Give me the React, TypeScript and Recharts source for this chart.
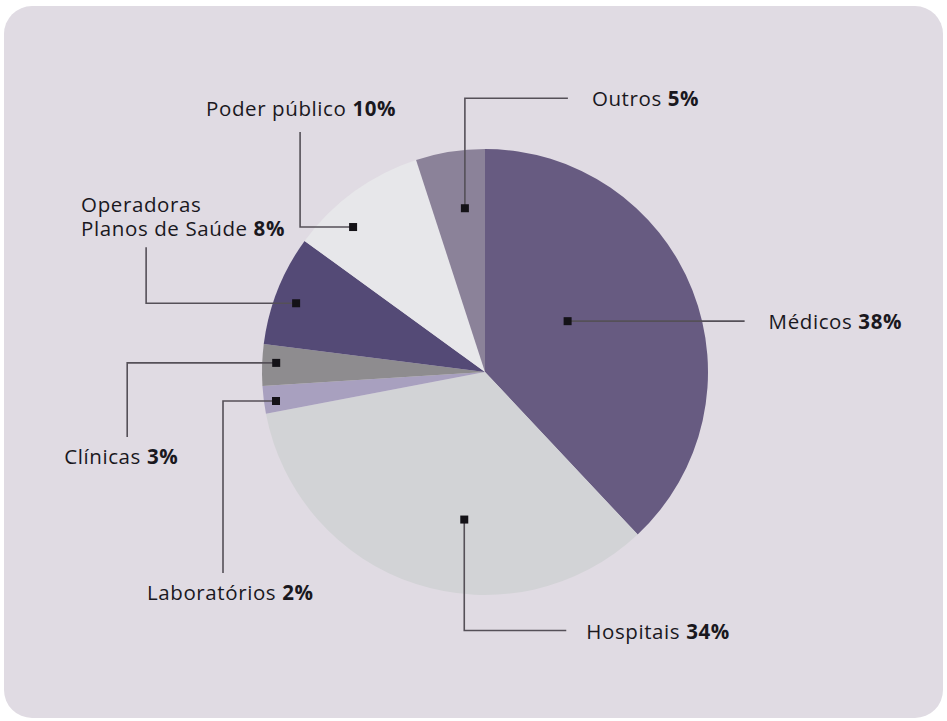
import { PieChart, Pie, Cell } from 'recharts';

const categories = ['Médicos', 'Hospitais', 'Laboratórios', 'Clínicas', 'Operadoras\nPlanos de Saúde', 'Poder público', 'Outros'];
const shares = [38, 34, 2, 3, 8, 10, 5];
const sliceColors = ['#675b81', '#d2d3d6', '#a8a0bf', '#8e8c8f', '#544a76', '#e7e7ea', '#8b8299'];

const data = categories.map((name, i) => ({ name, value: shares[i] }));

// label layout: marker radius, angle tweak, leader route (relative), text offset from route end
const labelLayout = [
  { r: 97, dAng: 10, route: [[177, 0]], tx: 24, ty: 0 },
  { r: 149, dAng: 10, route: [[0, 111], [102, 0]], tx: 20, ty: 0 },
  { r: 211, dAng: 0.7, route: [[-53, 0], [0, 172]], tx: -76, ty: 19 },
  { r: 209, dAng: -0.7, route: [[-149, 0], [0, 74]], tx: -63, ty: 19 },
  { r: 201, dAng: 1.6, route: [[-150, 0], [0, -56]], tx: -65, ty: -19 },
  { r: 196, dAng: 6.3, route: [[-53, 0], [0, -95]], tx: -94, ty: -24 },
  { r: 165, dAng: -2, route: [[0, -110], [103, 0]], tx: 24, ty: 0 },
];

const RAD = Math.PI / 180;
const font = '"Open Sans", "Noto Sans", sans-serif';
const lineGap = 24;

const renderLabel = (props: any) => {
  const { cx, cy, midAngle, index, name, value } = props;
  const L = labelLayout[index];
  const a = (midAngle + L.dAng) * RAD;
  const mx = cx + Math.cos(-a) * L.r;
  const my = cy + Math.sin(-a) * L.r;
  let x = mx;
  let y = my;
  let d = `M${mx},${my}`;
  L.route.forEach(([dx, dy]) => {
    x += dx;
    y += dy;
    d += ` L${x},${y}`;
  });
  const lines = String(name).split('\n');
  const tx = x + L.tx;
  const ty = y + L.ty;
  return (
    <g key={`lbl-${index}`}>
      <path d={d} stroke="#555058" strokeWidth={1.6} fill="none" />
      <rect x={mx - 4} y={my - 4} width={8} height={8} fill="#141217" />
      {lines.map((ln, j) => (
        <text
          key={j}
          x={tx}
          y={ty - (lines.length - 1 - j) * lineGap}
          fontFamily={font}
          fontSize={20.5}
          letterSpacing={0.6}
          fill="#1a181e"
          dominantBaseline="central"
          textAnchor="start"
        >
          {ln}
          {j === lines.length - 1 && <tspan fontWeight={700}>{` ${value}%`}</tspan>}
        </text>
      ))}
    </g>
  );
};

export default function App() {
  return (
    <div style={{ position: 'absolute', left: 0, top: 0, width: 947, height: 721, background: '#ffffff' }}>
      <div
        style={{
          position: 'absolute',
          left: 4,
          top: 6,
          width: 939,
          height: 712,
          background: '#e0dbe3',
          borderRadius: 28,
        }}
      />
      <div style={{ position: 'absolute', left: 0, top: 0 }}>
        <PieChart width={947} height={721} margin={{ top: 0, right: 0, bottom: 0, left: 0 }}>
          <Pie
            data={data}
            dataKey="value"
            nameKey="name"
            cx={485}
            cy={372}
            outerRadius={223}
            startAngle={90}
            endAngle={-270}
            stroke="none"
            label={renderLabel}
            labelLine={false}
            isAnimationActive={false}
          >
            {data.map((d, i) => (
              <Cell key={d.name} fill={sliceColors[i]} />
            ))}
          </Pie>
        </PieChart>
      </div>
    </div>
  );
}
